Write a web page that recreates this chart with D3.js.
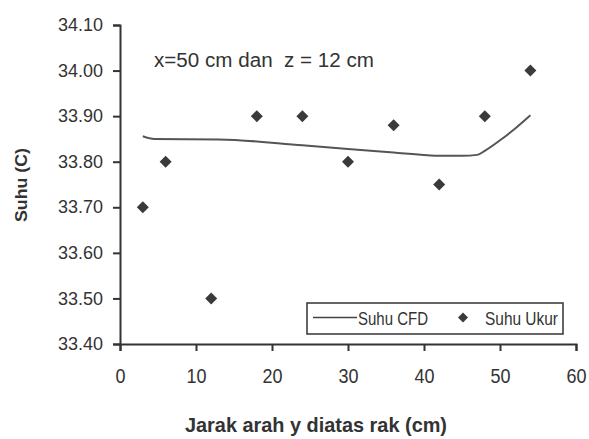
<!DOCTYPE html>
<html><head><meta charset="utf-8">
<script src="https://cdn.jsdelivr.net/npm/d3@7"></script>
<style>
html,body{margin:0;padding:0;background:#fff;}
svg{display:block;}
text{font-family:"Liberation Sans",Arial,sans-serif;fill:#333;white-space:pre;}
</style></head>
<body>
<svg id="chart" width="589" height="439"></svg>
<script>
// Data
const ukurX = [3, 6, 12, 18, 24, 30, 36, 42, 48, 54];
const ukurY = [33.70, 33.80, 33.50, 33.90, 33.90, 33.80, 33.88, 33.75, 33.90, 34.00];
const cfdX = [3, 4.5, 13, 24, 30, 36, 40.5, 42, 45, 47, 48, 50, 52, 54];
const cfdY = [33.856, 33.850, 33.849, 33.836, 33.828, 33.820, 33.814, 33.813, 33.813, 33.815, 33.824, 33.847, 33.873, 33.902];
const xTicks = [0, 10, 20, 30, 40, 50, 60];
const yTicks = [33.40, 33.50, 33.60, 33.70, 33.80, 33.90, 34.00, 34.10];
const seriesNames = ["Suhu CFD", "Suhu Ukur"];
const annotation = "x=50 cm dan  z = 12 cm";
const xTitle = "Jarak arah y diatas rak (cm)";
const yTitle = "Suhu (C)";

const FONT = "Liberation Sans, Arial, sans-serif";
const svg = d3.select("#chart");
const x = d3.scaleLinear().domain([0, 60]).range([120, 576]);
const y = d3.scaleLinear().domain([33.40, 34.10]).range([344, 25]);
const dark = "#333";

// Axes
const yAxis = svg.append("g").attr("transform", "translate(120,0)")
  .call(d3.axisLeft(y).tickValues(yTicks).tickFormat(d3.format(".2f")).tickSizeOuter(0).tickSize(7).tickPadding(10));
const xAxis = svg.append("g").attr("transform", "translate(0,344)")
  .call(d3.axisBottom(x).tickValues(xTicks).tickFormat(d3.format("d")).tickSizeOuter(0).tickSize(7).tickPadding(9));
[yAxis, xAxis].forEach(g => {
  g.select(".domain").attr("stroke", dark).attr("stroke-width", 2);
  g.selectAll(".tick line").attr("stroke", dark).attr("stroke-width", 2);
  g.selectAll(".tick text").attr("font-family", FONT)
    .attr("font-size", 18).attr("fill", dark);
});
yAxis.selectAll(".tick text").attr("transform", "scale(1,1.05)").attr("dy", "0.3em");
xAxis.selectAll(".tick text").attr("y", 39 / 1.15).attr("dy", 0).attr("transform", "scale(1,1.15)");

// CFD line
const line = d3.line().x((d, i) => x(cfdX[i])).y(d => y(d)).curve(d3.curveMonotoneX);
svg.append("path").datum(cfdY).attr("d", line)
  .attr("fill", "none").attr("stroke", "#555").attr("stroke-width", 2);

// Diamonds
const diamond = "M0,-6L6,0L0,6L-6,0Z";
svg.selectAll("path.pt").data(ukurY).enter().append("path").attr("class", "pt")
  .attr("d", diamond)
  .attr("transform", (d, i) => `translate(${x(ukurX[i])},${y(d)})`)
  .attr("fill", "#3a3a3a");

// Annotation
svg.append("text").attr("x", 154).attr("y", 67).attr("font-size", 20)
  .attr("textLength", 220).attr("lengthAdjust", "spacingAndGlyphs").text(annotation);

// Legend
const lg = svg.append("g");
lg.append("rect").attr("x", 307).attr("y", 303).attr("width", 256).attr("height", 31)
  .attr("fill", "#fff").attr("stroke", dark).attr("stroke-width", 1.5);
lg.append("line").attr("x1", 313).attr("x2", 357).attr("y1", 317.5).attr("y2", 317.5)
  .attr("stroke", "#444").attr("stroke-width", 1.5);
lg.append("text").attr("x", 358).attr("y", 324.5).attr("font-size", 19)
  .attr("textLength", 70).attr("lengthAdjust", "spacingAndGlyphs").text(seriesNames[0]);
lg.append("path").attr("d", "M0,-5L5,0L0,5L-5,0Z").attr("transform", "translate(463,317.5)").attr("fill", "#3a3a3a");
lg.append("text").attr("x", 485).attr("y", 324.5).attr("font-size", 19)
  .attr("textLength", 73).attr("lengthAdjust", "spacingAndGlyphs").text(seriesNames[1]);

// Axis titles
svg.append("text").attr("x", 316).attr("y", 432).attr("text-anchor", "middle")
  .attr("font-size", 21).attr("font-weight", "bold").attr("fill", "#222")
  .attr("textLength", 262).attr("lengthAdjust", "spacingAndGlyphs").text(xTitle);
svg.append("text").attr("transform", "translate(27,185) rotate(-90)").attr("text-anchor", "middle")
  .attr("font-size", 17).attr("font-weight", "bold").attr("fill", "#222")
  .attr("textLength", 74).attr("lengthAdjust", "spacingAndGlyphs").text(yTitle);
</script>
</body></html>
